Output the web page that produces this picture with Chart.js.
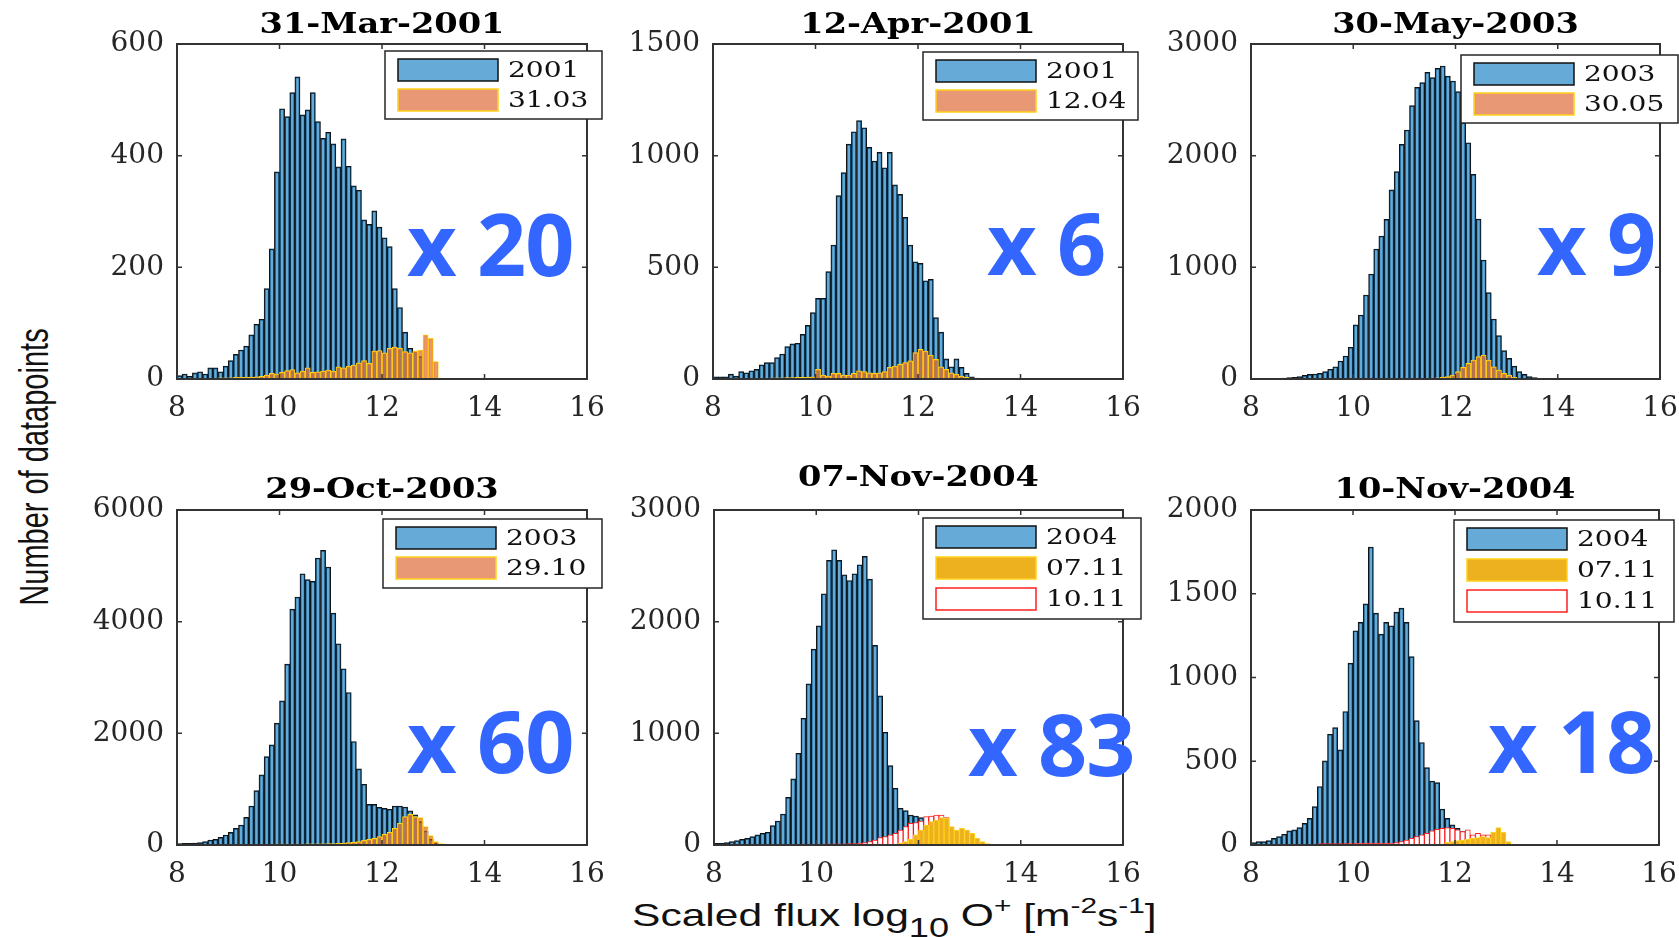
<!DOCTYPE html>
<html>
<head>
<meta charset="utf-8">
<title>Scaled O+ flux histograms</title>
<script src="https://cdn.jsdelivr.net/npm/chart.js"></script>
<style>
  html, body { margin: 0; padding: 0; background: #fff; }
  body { width: 1679px; height: 937px; position: relative; overflow: hidden; }
  canvas { position: absolute; }
  .factor {
    position: absolute; font-family: "Open Sans", sans-serif; font-weight: 700;
    font-size: 86px; line-height: 86px; color: #3366ff; white-space: nowrap; letter-spacing: -1px;
  }
  #ylabel {
    position: absolute; left: -116px; top: 447px; width: 300px; height: 40px; line-height: 40px;
    text-align: center; font-family: "Liberation Sans", Arial, sans-serif; font-size: 29px; color: #111;
    transform: rotate(-90deg) scaleY(1.4);
  }
  #xlabel {
    position: absolute; left: 632px; top: 899px; line-height: 32px; white-space: nowrap;
    font-family: "Liberation Sans", Arial, sans-serif; font-size: 32px; color: #111;
    transform: scaleX(1.33); transform-origin: 0 0;
  }
  #xlabel sub, #xlabel sup { line-height: 0; }
  #xlabel sub { font-size: 0.85em; vertical-align: -0.4em; }
  #xlabel sup { font-size: 0.7em; vertical-align: 0.6em; }
</style>
</head>
<body>
<div id="ylabel">Number of datapoints</div>
<div id="xlabel">Scaled flux log<sub>10</sub> O<sup>+</sup> [m<sup>-2</sup>s<sup>-1</sup>]</div>
<script>
const binStart = 8;
const binWidth = 0.1;

const titles = ['31-Mar-2001', '12-Apr-2001', '30-May-2003', '29-Oct-2003', '07-Nov-2004', '10-Nov-2004'];
const factors = ['x 20', 'x 6', 'x 9', 'x 60', 'x 83', 'x 18'];
const legendLabels = [
  ['2001', '31.03'], ['2001', '12.04'], ['2003', '30.05'],
  ['2003', '29.10'], ['2004', '07.11', '10.11'], ['2004', '07.11', '10.11']
];
const yMax = [600, 1500, 3000, 6000, 3000, 2000];
const yStep = [200, 500, 1000, 2000, 1000, 500];
const xTicks = [8, 10, 12, 14, 16];

// counts per 0.1 wide bin, first bin is 8.0-8.1
const year2001a = [6,9,5,11,13,9,20,20,13,23,33,44,52,59,79,98,107,162,233,371,484,470,513,541,473,482,513,461,431,442,421,380,430,381,346,338,285,277,301,272,253,237,162,128,84,55,50,40];
const day3103 = [0,0,0,0,0,0,1,1,2,2,2,3,3,3,3,4,5,7,10,9,12,15,17,11,14,20,12,13,14,16,14,22,20,23,25,29,33,28,50,51,47,55,57,55,49,47,50,52,79,73,31,1];

const year2001b = [10,10,10,22,13,33,28,37,43,63,73,73,96,112,145,157,160,200,240,297,361,361,481,600,821,924,1052,1107,1157,1125,1037,976,1015,946,1015,869,827,724,600,525,518,440,446,275,210,90,55,90,52,25,10,4];
const day1204 = [0,0,0,0,1,1,2,2,3,3,4,4,5,5,6,6,7,7,8,10,43,18,13,25,25,18,18,25,37,33,28,25,28,33,52,58,66,73,81,118,133,125,107,88,55,43,28,22,13,7,4];

const year2003a = [0,0,1,2,4,6,9,12,15,21,33,42,45,51,66,87,110,161,206,284,484,573,752,940,1164,1281,1430,1693,1857,2101,2230,2448,2612,2654,2746,2699,2782,2803,2713,2669,2573,2296,2116,1833,1433,1066,773,537,388,254,185,116,66,42,21,12,6,3];
const day3005 = [0,0,0,0,0,0,0,0,0,0,0,0,0,0,0,0,0,0,0,0,4,4,4,4,4,4,5,5,5,5,5,5,5,6,6,8,10,15,21,36,66,104,140,170,200,215,170,110,80,51,36,15];

const year2003b = [24,30,30,36,42,60,90,102,137,179,227,299,359,496,699,974,1255,1584,1793,2182,2582,3240,4226,4441,4859,4752,4722,5140,5278,4979,4154,3604,3156,2731,1853,1363,1088,729,729,675,657,640,699,699,681,610,540,420,250,100,30,12];
const day2910 = [0,0,0,0,0,0,0,0,0,8,8,10,10,10,12,12,12,14,14,15,15,16,16,18,18,20,20,22,22,24,26,30,36,42,48,60,84,102,120,149,191,227,299,389,508,550,508,490,329,167,60,24,15,10,5];

const year2004a = [15,15,21,30,39,51,60,75,90,105,114,173,215,278,427,592,822,1135,1443,1754,1963,2250,2549,2644,2549,2420,2369,2429,2510,2585,2381,1787,1336,1010,711,508,329,308,269,260,245,224,209,180,150,110];
const day0711a = [0,0,0,0,0,0,0,0,0,0,0,0,0,0,0,0,0,0,0,0,0,0,0,0,0,0,0,0,0,0,0,0,0,0,0,5,15,30,54,90,134,179,209,224,245,239,164,134,149,134,105,60,30,12];
const day1011a = [0,0,0,0,0,0,0,0,0,0,0,0,0,6,6,7,7,8,8,8,9,9,10,10,10,11,12,13,15,21,30,45,66,75,90,105,134,164,194,200,215,254,260,269,269,245,120,60,20];

const year2004b = [14,20,20,26,40,50,64,84,90,104,129,159,229,349,502,661,701,568,797,1086,1279,1329,1440,1779,1384,1259,1329,1309,1390,1414,1329,1125,743,612,462,382,372,215,159,120,100,80,50];
const day0711b = [0,0,0,0,0,0,0,0,0,0,0,0,0,0,0,0,0,0,0,0,0,0,0,0,0,0,0,0,0,0,0,0,0,0,0,0,0,0,16,20,26,30,34,40,44,50,44,76,104,76,20];
const day1011b = [0,0,0,0,0,0,0,0,0,0,0,0,0,8,8,8,9,9,9,10,10,10,11,11,12,12,12,10,14,20,30,40,50,60,70,84,94,100,104,100,90,80,90,60,70,60,60,40,20];

const blueStyle = { backgroundColor: 'rgba(0,114,189,0.6)', borderColor: '#111111', borderWidth: 1 };
const orangeStyle = { backgroundColor: 'rgba(217,83,25,0.6)', borderColor: '#ffd21a', borderWidth: 1 };
const yellowStyle = { backgroundColor: '#edb120', borderColor: '#ffd21a', borderWidth: 1 };
const redStyle = { backgroundColor: '#ffffff', borderColor: '#ff1f1f', borderWidth: 1 };

// plot area [left, top, right, bottom], legend box [dx from right, dy from top, w, h]
const panels = [
  { rect: [177, 44, 587, 379], titleGap: 11, box: [-202, 7, 217, 68], step: 30, factorPos: [407, 200],
    series: [[year2001a, blueStyle, 2], [day3103, orangeStyle, 1]] },
  { rect: [713, 44, 1123, 379], titleGap: 11, box: [-200, 8, 215, 68], step: 30, factorPos: [987, 199],
    series: [[year2001b, blueStyle, 2], [day1204, orangeStyle, 1]] },
  { rect: [1251, 44, 1660, 379], titleGap: 11, box: [-199, 11, 217, 68], step: 30, factorPos: [1537, 199],
    series: [[year2003a, blueStyle, 2], [day3005, orangeStyle, 1]] },
  { rect: [177, 510, 587, 845], titleGap: 12, box: [-204, 9, 219, 69], step: 30, factorPos: [407, 697],
    series: [[year2003b, blueStyle, 2], [day2910, orangeStyle, 1]] },
  { rect: [714, 510, 1123, 845], titleGap: 24, box: [-200, 8, 218, 101], step: 31, factorPos: [968, 700],
    series: [[year2004a, blueStyle, 3], [day0711a, yellowStyle, 1], [day1011a, redStyle, 2]] },
  { rect: [1251, 510, 1659, 845], titleGap: 12, box: [-205, 10, 220, 102], step: 31, factorPos: [1488, 697],
    series: [[year2004b, blueStyle, 3], [day0711b, yellowStyle, 1], [day1011b, redStyle, 2]] }
];

const toPoints = counts => counts
  .map((v, i) => ({ x: binStart + binWidth * (i + 0.5), y: v }))
  .filter(p => p.y > 0);

// the source figure is stretched sideways, so text is widened a bit
function wideText(ctx, text, x, y, sx) {
  ctx.save();
  ctx.translate(x, y);
  ctx.scale(sx, 1);
  ctx.fillText(text, 0, 0);
  ctx.restore();
}

const framePlugin = {
  id: 'frame',
  afterDatasetsDraw(chart, args, opts) {
    const { ctx, chartArea: a, scales: { x, y } } = chart;
    ctx.save();
    ctx.strokeStyle = '#333333';
    ctx.lineWidth = 2;
    ctx.strokeRect(a.left, a.top, a.right - a.left, a.bottom - a.top);

    // MATLAB style inward ticks
    ctx.lineWidth = 1.5;
    ctx.beginPath();
    x.ticks.forEach(t => {
      const px = x.getPixelForValue(t.value);
      ctx.moveTo(px, a.bottom); ctx.lineTo(px, a.bottom - 5);
      ctx.moveTo(px, a.top); ctx.lineTo(px, a.top + 5);
    });
    y.ticks.forEach(t => {
      const py = y.getPixelForValue(t.value);
      ctx.moveTo(a.left, py); ctx.lineTo(a.left + 5, py);
      ctx.moveTo(a.right, py); ctx.lineTo(a.right - 5, py);
    });
    ctx.stroke();

    ctx.fillStyle = '#000';
    ctx.font = 'bold 28px "DejaVu Serif"';
    ctx.textAlign = 'center';
    ctx.textBaseline = 'alphabetic';
    wideText(ctx, opts.title, (a.left + a.right) / 2, a.top - opts.titleGap, 1.2);

    // legend box inside the axes
    const [dx, dy, w, h] = opts.box;
    const bx = a.right + dx, by = a.top + dy;
    ctx.fillStyle = '#fff';
    ctx.fillRect(bx, by, w, h);
    ctx.strokeStyle = '#262626';
    ctx.lineWidth = 1.5;
    ctx.strokeRect(bx, by, w, h);
    chart.data.datasets.forEach((ds, i) => {
      const sy = by + 8 + i * opts.step;
      ctx.fillStyle = ds.backgroundColor;
      ctx.fillRect(bx + 13, sy, 100, 22);
      ctx.strokeStyle = ds.borderColor;
      ctx.lineWidth = 1.5;
      ctx.strokeRect(bx + 13, sy, 100, 22);
      ctx.fillStyle = '#111';
      ctx.font = '23px "DejaVu Serif"';
      ctx.textAlign = 'left';
      ctx.textBaseline = 'middle';
      wideText(ctx, ds.label, bx + 123, sy + 12, 1.22);
    });
    ctx.restore();
  }
};

const tickFont = { family: 'DejaVu Serif', size: 28 };
const padRight = 40;

panels.forEach((p, n) => {
  const [L, T, R, B] = p.rect;
  const canvas = document.createElement('canvas');
  canvas.width = R - L + 100 + padRight;
  canvas.height = B - T + 115;
  canvas.style.left = (L - 100) + 'px';
  canvas.style.top = (T - 60) + 'px';
  document.body.appendChild(canvas);

  const f = document.createElement('div');
  f.className = 'factor';
  f.textContent = factors[n];
  f.style.left = p.factorPos[0] + 'px';
  f.style.top = p.factorPos[1] + 'px';
  document.body.appendChild(f);

  new Chart(canvas.getContext('2d'), {
    type: 'bar',
    data: {
      datasets: p.series.map(([counts, style, order], i) => ({
        label: legendLabels[n][i],
        data: toPoints(counts),
        order: order,
        ...style
      }))
    },
    options: {
      responsive: false,
      animation: false,
      devicePixelRatio: 1,
      layout: { padding: { top: 60, right: padRight, left: 0, bottom: 0 } },
      datasets: { bar: { grouped: false, barPercentage: 1, categoryPercentage: 1 } },
      plugins: {
        legend: { display: false },
        tooltip: { enabled: false },
        frame: { title: titles[n], titleGap: p.titleGap, box: p.box, step: p.step }
      },
      scales: {
        x: {
          type: 'linear', min: 8, max: 16, offset: false,
          afterBuildTicks: s => { s.ticks = xTicks.map(v => ({ value: v })); },
          afterFit: s => { s.height = 55; },
          grid: { display: false, drawTicks: false, offset: false },
          border: { display: false },
          ticks: { font: tickFont, color: '#262626', padding: 13, maxRotation: 0, callback: v => String(v) }
        },
        y: {
          min: 0, max: yMax[n],
          afterFit: s => { s.width = 100; },
          grid: { display: false, drawTicks: false },
          border: { display: false },
          ticks: { font: tickFont, color: '#262626', padding: 13, stepSize: yStep[n], callback: v => String(v) }
        }
      }
    },
    plugins: [framePlugin]
  });
});
</script>
</body>
</html>
